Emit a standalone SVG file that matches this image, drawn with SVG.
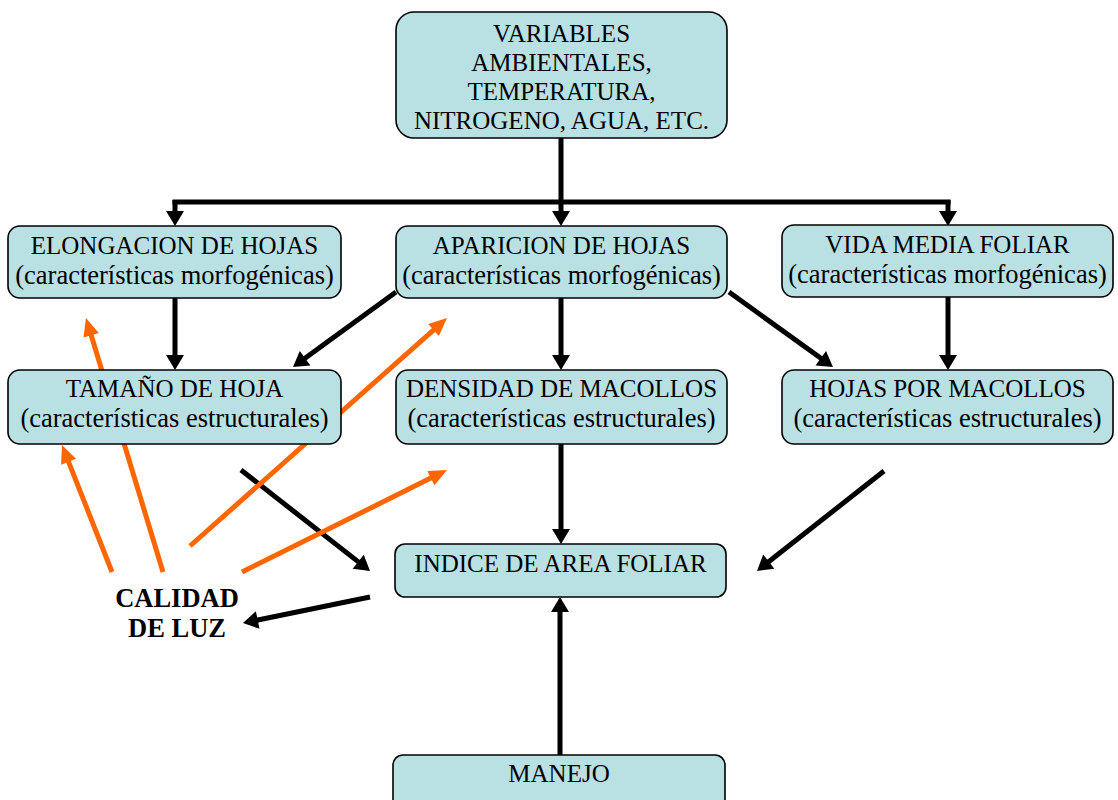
<svg xmlns="http://www.w3.org/2000/svg" width="1118" height="800" viewBox="0 0 1118 800">
<style>
.box{fill:#B9E0E3;stroke:#000;stroke-width:1.6}
.t{font-family:"Liberation Serif","Times New Roman",serif;font-size:25px;fill:#000;text-anchor:middle}
.s{font-size:26.5px}
.b{font-weight:bold;font-size:26.5px}
.k{stroke:#000;stroke-width:5;fill:none}
.o{stroke:#FF6600;stroke-width:5;fill:none}
</style>
<defs>
<marker id="ak" markerUnits="userSpaceOnUse" markerWidth="20" markerHeight="20" viewBox="0 -10 20 20" refX="1" refY="0" orient="auto" overflow="visible">
<path d="M0,-9 L15,0 L0,9 z" fill="#000"/>
</marker>
<marker id="ao" markerUnits="userSpaceOnUse" markerWidth="20" markerHeight="20" viewBox="0 -10 20 20" refX="1" refY="0" orient="auto" overflow="visible">
<path d="M0,-8 L18,0 L0,8 z" fill="#FF6600"/>
</marker>
</defs>
<rect width="1118" height="800" fill="#fff"/>
<g id="connectors">
<path class="k" d="M561,138 V212" marker-end="url(#ak)"/>
<path class="k" d="M172.5,202 H950.5"/>
<path class="k" d="M175,200 V212" marker-end="url(#ak)"/>
<path class="k" d="M948,200 V212" marker-end="url(#ak)"/>
<path class="k" d="M175,298 V356" marker-end="url(#ak)"/>
<path class="k" d="M561,298 V356" marker-end="url(#ak)"/>
<path class="k" d="M948,297 V356" marker-end="url(#ak)"/>
<path class="k" d="M396,292 L304.3,358.8" marker-end="url(#ak)"/>
<path class="k" d="M729,292 L821.6,358.8" marker-end="url(#ak)"/>
<path class="k" d="M561,444 V530" marker-end="url(#ak)"/>
<path class="k" d="M884,471 L768,562.3" marker-end="url(#ak)"/>
<path class="k" d="M241,470 L359,562.4" marker-end="url(#ak)"/>
<path class="k" d="M370,597 L256.7,620.2" marker-end="url(#ak)"/>
<path class="k" d="M560,755 V611" marker-end="url(#ak)"/>
<path class="o" d="M112,572 L68.2,460.8" marker-end="url(#ao)"/>
<path class="o" d="M163,572 L90.9,334.3" marker-end="url(#ao)"/>
<path class="o" d="M190,546 L434.3,329.3" marker-end="url(#ao)"/>
<path class="o" d="M242,572 L431.8,477.6" marker-end="url(#ao)"/>
</g>
<g id="variables">
<rect class="box" x="396" y="12" width="331" height="126" rx="18"/>
<text class="t" x="561.5" y="42">VARIABLES</text>
<text class="t" x="561.5" y="71">AMBIENTALES,</text>
<text class="t" x="561.5" y="100">TEMPERATURA,</text>
<text class="t" x="561.5" y="129">NITROGENO, AGUA, ETC.</text>
</g>
<g id="elongacion">
<rect class="box" x="8" y="226" width="333" height="72" rx="12"/>
<text class="t" x="174.5" y="254">ELONGACION DE HOJAS</text>
<text class="t s" x="174.5" y="284">(características morfogénicas)</text>
</g>
<g id="aparicion">
<rect class="box" x="396" y="226" width="331" height="72" rx="12"/>
<text class="t" x="561.5" y="254">APARICION DE HOJAS</text>
<text class="t s" x="561.5" y="284">(características morfogénicas)</text>
</g>
<g id="vida">
<rect class="box" x="782" y="225" width="331" height="72" rx="12"/>
<text class="t" x="947.5" y="253">VIDA MEDIA FOLIAR</text>
<text class="t s" x="947.5" y="283">(características morfogénicas)</text>
</g>
<g id="tamano">
<rect class="box" x="8" y="370" width="333" height="74" rx="12"/>
<text class="t" x="174.5" y="397">TAMAÑO DE HOJA</text>
<text class="t s" x="174.5" y="427">(características estructurales)</text>
</g>
<g id="densidad">
<rect class="box" x="396" y="370" width="331" height="74" rx="12"/>
<text class="t" x="561.5" y="397">DENSIDAD DE MACOLLOS</text>
<text class="t s" x="561.5" y="427">(características estructurales)</text>
</g>
<g id="hojas">
<rect class="box" x="782" y="370" width="331" height="74" rx="12"/>
<text class="t" x="947.5" y="397">HOJAS POR MACOLLOS</text>
<text class="t s" x="947.5" y="427">(características estructurales)</text>
</g>
<g id="indice">
<rect class="box" x="395" y="544" width="331" height="53" rx="10"/>
<text class="t" x="560.5" y="572">INDICE DE AREA FOLIAR</text>
</g>
<g id="manejo">
<rect class="box" x="393" y="755" width="332" height="60" rx="10"/>
<text class="t" x="559" y="782">MANEJO</text>
</g>
<g id="calidad">
<text class="t b" x="177" y="607">CALIDAD</text>
<text class="t b" x="177" y="637">DE LUZ</text>
</g>
</svg>
